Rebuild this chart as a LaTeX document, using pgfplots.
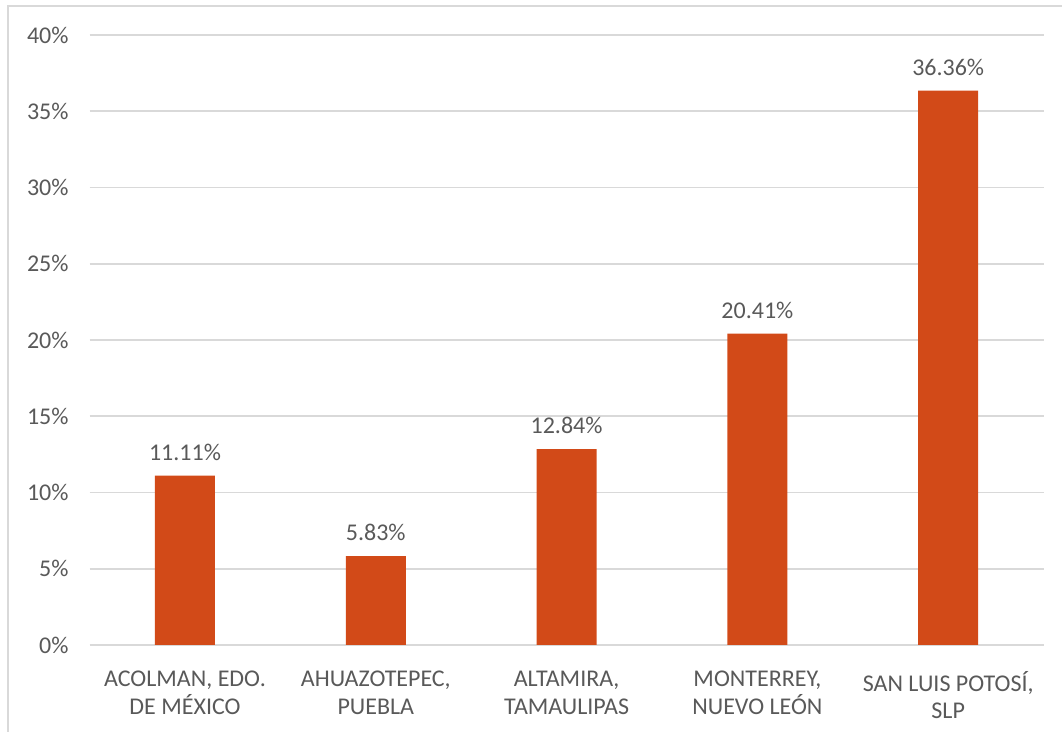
\documentclass[border=0pt]{standalone}
\usepackage{pgfplots}
\pgfplotsset{compat=1.18}
\usepackage{fontspec}
\setmainfont{Carlito}
\definecolor{barc}{RGB}{210,74,24}
\definecolor{txt}{RGB}{89,89,89}
\definecolor{gridc}{RGB}{217,217,217}
\begin{document}
\begin{tikzpicture}
\path[use as bounding box] (-44.8pt,-43.5pt) rectangle (486.2pt,322.5pt);
\draw[gridc, line width=1.2pt] (-40.8pt,-43.5pt) -- (-40.8pt,319.5pt) -- (486.2pt,319.5pt);
\begin{axis}[
  at={(0,0)}, anchor=south west,
  scale only axis, width=477pt, height=305pt,
  xmin=-0.5, xmax=4.5, ymin=0, ymax=40,
  axis line style={draw=none},
  ybar, bar width=30pt,
  xmajorgrids=false, ymajorgrids=true,
  grid style={draw=gridc, line width=0.8pt},
  xtick={0,1,2,3,4},
  xticklabels={{ACOLMAN, EDO.\\DE MÉXICO},{AHUAZOTEPEC,\\PUEBLA},{ALTAMIRA,\\TAMAULIPAS},{MONTERREY,\\NUEVO LEÓN},{SAN LUIS POTOSÍ,\\SLP}},
  ytick={0,5,10,15,20,25,30,35,40},
  yticklabels={0\%,5\%,10\%,15\%,20\%,25\%,30\%,35\%,40\%},
  tick label style={font=\fontsize{12}{13.8}\selectfont, text=txt},
  xticklabel style={align=center, yshift=-9.5pt},
  yticklabel style={xshift=-7pt},
  major tick length=0pt,
  point meta=explicit symbolic,
  nodes near coords,
  nodes near coords style={font=\fontsize{12}{13.5}\selectfont, text=txt, yshift=4pt},
]
\addplot[fill=barc, draw=none] coordinates {
  (0,11.11) [11.11\%]
  (1,5.83) [5.83\%]
  (2,12.84) [12.84\%]
  (3,20.41) [20.41\%]
  (4,36.36) [36.36\%]
};
\end{axis}
\end{tikzpicture}
\end{document}
